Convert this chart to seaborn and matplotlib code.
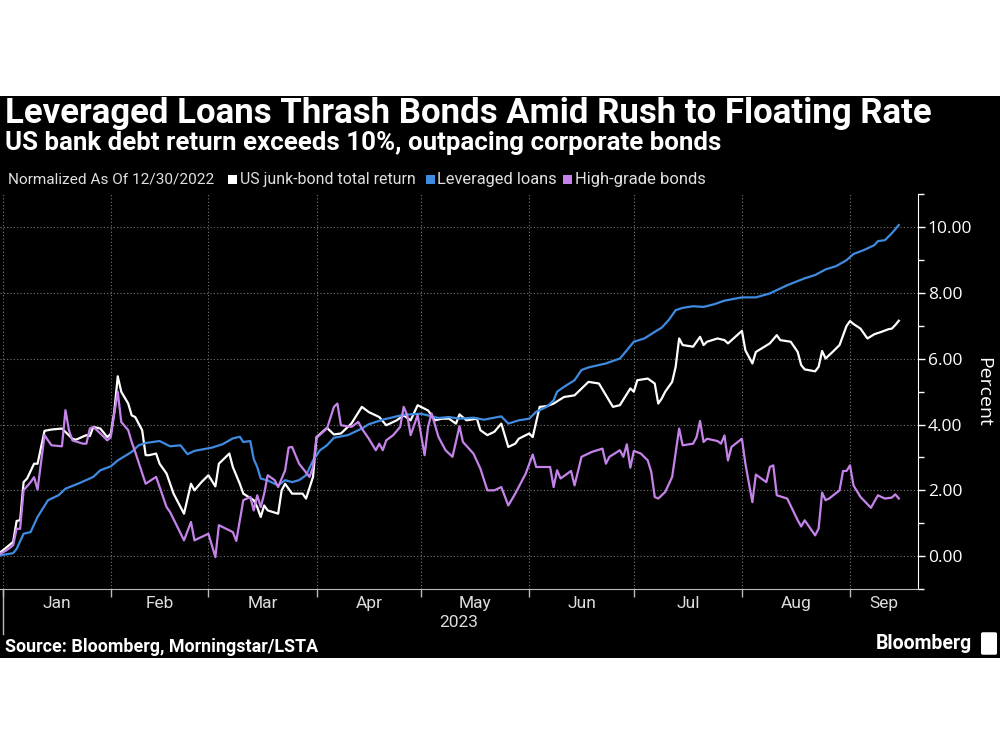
import pandas as pd
import matplotlib
matplotlib.use("Agg")
import matplotlib.pyplot as plt
import matplotlib.dates as mdates
from matplotlib.patches import Rectangle, FancyBboxPatch
from matplotlib.transforms import blended_transform_factory
from matplotlib.ticker import FixedLocator, FixedFormatter
import seaborn as sns

# days counted from 2023-01-01, values in percent (normalized as of 12/30/2022)
junk_days = [-2, 3, 4, 5, 6, 7, 9, 10, 12, 14, 17, 20, 21, 24, 25, 26, 28, 30, 31, 32,
             33, 34, 36, 37, 38, 39, 40, 41, 42, 44, 45, 47, 49, 52, 54, 55, 57, 59, 61, 62,
             65, 66, 68, 69, 72, 73, 74, 75, 76, 79, 80, 81, 83, 86, 87, 89, 90, 93, 95, 97,
             100, 103, 105, 108, 110, 113, 115, 117, 119, 122, 124, 126, 128, 130, 131, 133, 136, 137, 139, 141,
             143, 145, 147, 148, 151, 152, 154, 156, 158, 161, 164, 167, 168, 171, 175, 177, 180, 181, 182, 185,
             187, 188, 189, 190, 192, 193, 194, 195, 198, 200, 201, 202, 205, 207, 208, 212, 213, 215, 216, 220,
             222, 223, 226, 228, 229, 230, 233, 234, 235, 236, 238, 240, 242, 243, 244, 246, 248, 250, 252, 254,
             255, 256, 257]
junk_vals = [0.00, 0.43, 1.07, 1.09, 2.25, 2.36, 2.81, 2.81, 3.81, 3.85, 3.88, 3.57, 3.54, 3.68, 3.65, 3.93, 3.88, 3.62, 3.72, 4.39,
             5.47, 5.00, 4.64, 4.28, 4.23, 4.03, 3.83, 3.07, 3.07, 3.12, 2.81, 2.51, 1.90, 1.29, 2.20, 2.00, 2.25, 2.46, 2.12, 2.81,
             3.12, 2.71, 2.20, 1.90, 1.70, 1.49, 1.19, 1.54, 1.39, 1.29, 2.00, 2.20, 1.90, 1.90, 1.75, 2.41, 3.62, 3.90, 3.70, 3.73,
             4.03, 4.54, 4.38, 4.23, 3.98, 4.13, 4.28, 4.13, 4.59, 4.43, 4.13, 4.18, 4.18, 4.03, 4.31, 4.13, 4.18, 3.83, 3.68, 3.78,
             4.03, 3.32, 3.42, 3.57, 3.73, 3.62, 4.54, 4.56, 4.64, 4.84, 4.89, 5.20, 5.30, 5.25, 4.54, 4.59, 5.10, 5.00, 5.35, 5.40,
             5.25, 4.64, 4.79, 5.00, 5.30, 5.76, 6.62, 6.42, 6.37, 6.67, 6.42, 6.52, 6.62, 6.57, 6.47, 6.85, 6.26, 5.86, 6.21, 6.47,
             6.72, 6.57, 6.52, 6.21, 5.81, 5.68, 5.62, 5.76, 6.24, 6.01, 6.21, 6.42, 7.00, 7.15, 7.06, 6.92, 6.62, 6.75, 6.82, 6.90,
             6.92, 7.03, 7.16]

loan_days = [-2, 3, 4, 6, 8, 10, 13, 16, 18, 22, 26, 28, 31, 33, 35, 37, 39, 41, 45, 48,
             51, 53, 55, 60, 63, 66, 68, 69, 71, 72, 73, 74, 76, 79, 81, 83, 85, 87, 89, 91,
             93, 95, 99, 103, 105, 109, 115, 120, 125, 128, 131, 135, 138, 143, 145, 148, 151, 153, 156, 158,
             159, 161, 164, 166, 168, 173, 177, 179, 181, 184, 187, 189, 191, 193, 195, 198, 201, 204, 207, 210,
             212, 216, 220, 222, 225, 230, 233, 236, 239, 242, 244, 247, 250, 251, 253, 255, 257]
loan_vals = [0.00, 0.09, 0.22, 0.68, 0.73, 1.19, 1.70, 1.85, 2.05, 2.22, 2.41, 2.61, 2.73, 2.91, 3.04, 3.17, 3.37, 3.44, 3.50, 3.34,
             3.37, 3.10, 3.20, 3.30, 3.40, 3.58, 3.63, 3.47, 3.50, 2.95, 2.71, 2.36, 2.30, 2.15, 2.31, 2.25, 2.31, 2.46, 2.91, 3.22,
             3.37, 3.60, 3.68, 3.88, 4.01, 4.15, 4.30, 4.33, 4.20, 4.23, 4.18, 4.21, 4.15, 4.25, 4.03, 4.13, 4.18, 4.39, 4.54, 4.74,
             5.00, 5.15, 5.35, 5.66, 5.74, 5.86, 6.01, 6.26, 6.52, 6.62, 6.82, 6.95, 7.18, 7.48, 7.55, 7.60, 7.58, 7.66, 7.77, 7.83,
             7.87, 7.87, 7.99, 8.09, 8.24, 8.45, 8.55, 8.72, 8.82, 9.00, 9.19, 9.31, 9.46, 9.58, 9.61, 9.82, 10.07]

hg_days = [-2, 1, 3, 4, 5, 6, 8, 9, 10, 12, 13, 14, 17, 18, 19, 20, 23, 24, 25, 26,
           28, 30, 31, 32, 33, 34, 36, 37, 38, 41, 44, 45, 47, 48, 52, 54, 55, 59, 61, 62,
           65, 66, 67, 69, 70, 71, 72, 73, 74, 75, 76, 78, 79, 81, 82, 83, 85, 88, 89, 90,
           93, 95, 96, 97, 100, 102, 103, 105, 107, 108, 109, 110, 112, 114, 115, 116, 117, 119, 121, 122,
           123, 125, 127, 129, 131, 132, 135, 137, 139, 141, 143, 145, 147, 150, 152, 153, 157, 158, 159, 160,
           163, 164, 166, 169, 172, 173, 174, 177, 178, 179, 180, 181, 183, 185, 186, 187, 188, 190, 192, 194,
           195, 198, 199, 200, 201, 202, 205, 206, 207, 208, 209, 212, 213, 215, 216, 219, 220, 221, 222, 225,
           228, 229, 230, 233, 234, 235, 236, 237, 240, 241, 242, 243, 244, 246, 249, 251, 253, 255, 256, 257]
hg_vals = [0.00, 0.17, 0.33, 0.83, 0.83, 2.00, 2.25, 2.40, 2.02, 3.68, 3.52, 3.37, 3.34, 4.44, 3.83, 3.52, 3.42, 3.42, 3.88, 3.93,
           3.73, 3.52, 3.62, 4.34, 5.00, 4.08, 3.83, 3.47, 3.17, 2.20, 2.41, 2.10, 1.49, 1.34, 0.48, 1.04, 0.48, 0.68, -0.03, 0.94,
           0.78, 0.73, 0.46, 1.70, 1.75, 1.80, 1.39, 1.85, 1.49, 1.90, 2.46, 2.31, 2.10, 2.61, 3.30, 3.32, 2.81, 2.41, 2.71, 3.60,
           3.88, 4.54, 4.64, 3.98, 3.93, 4.08, 3.88, 3.57, 3.22, 3.42, 3.22, 3.52, 3.68, 3.93, 4.54, 4.29, 3.68, 4.29, 3.07, 3.93,
           4.34, 3.62, 3.22, 3.02, 3.95, 3.47, 3.12, 2.66, 2.00, 2.00, 2.10, 1.54, 1.90, 2.51, 3.09, 2.71, 2.71, 2.10, 2.61, 2.36,
           2.59, 2.15, 3.02, 3.17, 3.27, 2.81, 3.02, 3.22, 3.02, 3.40, 2.69, 3.20, 3.12, 2.91, 2.56, 1.80, 1.75, 1.95, 2.41, 3.88,
           3.37, 3.42, 3.62, 4.11, 3.47, 3.57, 3.50, 3.42, 3.67, 2.91, 3.32, 3.57, 2.81, 1.64, 2.48, 2.25, 2.71, 2.76, 1.85, 1.75,
           1.09, 0.90, 1.09, 0.63, 0.84, 1.93, 1.70, 1.75, 2.00, 2.59, 2.59, 2.76, 2.15, 1.80, 1.47, 1.85, 1.75, 1.78, 1.88, 1.75]

series_names = ["US junk-bond total return", "Leveraged loans", "High-grade bonds"]
series_colors = ["#ffffff", "#3f8be0", "#c583ea"]
month_labels = ["Jan", "Feb", "Mar", "Apr", "May", "Jun", "Jul", "Aug", "Sep"]
y_ticks = [0, 2, 4, 6, 8, 10]

BASE = pd.Timestamp("2023-01-01")


def to_frame(name, days, vals):
    return pd.DataFrame({"date": BASE + pd.to_timedelta(days, unit="D"),
                         "value": vals, "series": name})


df = pd.concat([to_frame(series_names[0], junk_days, junk_vals),
                to_frame(series_names[1], loan_days, loan_vals),
                to_frame(series_names[2], hg_days, hg_vals)], ignore_index=True)

NARROW = ["Roboto", "DejaVu Sans"]
PLAIN = ["Open Sans", "DejaVu Sans"]

fig = plt.figure(figsize=(10, 7.5), dpi=100, facecolor="white")
renderer = fig.canvas.get_renderer()


def fit_width(txt, target_px):
    # shrink/grow a text so it spans the same width as in the reference
    w = txt.get_window_extent(renderer).width
    txt.set_fontsize(txt.get_fontsize() * target_px / w)
    return txt


# black panel behind everything
fig.patches.append(Rectangle((0, 0.1227), 1, 0.7493, transform=fig.transFigure,
                             facecolor="black", edgecolor="none", zorder=-10))

ax = fig.add_axes([0.0, 0.2147, 0.918, 0.526])
ax.set_facecolor("black")

sns.lineplot(data=df, x="date", y="value", hue="series", hue_order=series_names,
             palette=dict(zip(series_names, series_colors)), estimator=None, sort=False,
             linewidth=1.6, legend=False, ax=ax)

x0 = mdates.date2num(BASE - pd.Timedelta(days=0.77))
x1 = mdates.date2num(BASE + pd.Timedelta(days=262.5))
ax.set_xlim(x0, x1)
ax.set_ylim(-1, 11)

# spines
for s in ["left", "top"]:
    ax.spines[s].set_visible(False)
ax.spines["right"].set_color("white")
ax.spines["bottom"].set_color("#bbbbbb")

# x axis: month starts as ticks, month names centered in the visible part
month_starts = [BASE + pd.DateOffset(months=i) for i in range(9)]
starts_num = [mdates.date2num(m) for m in month_starts]
ends_num = starts_num[1:] + [x1]
mids = [(max(a, x0) + min(b, x1)) / 2 for a, b in zip(starts_num, ends_num)]
ax.xaxis.set_major_locator(FixedLocator(starts_num))
ax.xaxis.set_major_formatter(FixedFormatter([""] * len(starts_num)))
ax.xaxis.set_minor_locator(FixedLocator(mids))
ax.xaxis.set_minor_formatter(FixedFormatter(month_labels))
ax.tick_params(axis="x", which="major", direction="out", length=6, width=1, color="#bbbbbb")
ax.tick_params(axis="x", which="minor", length=0, pad=5, labelsize=12.5, labelcolor="#dddddd")
for lab in ax.get_xticklabels(minor=True):
    lab.set_family(NARROW)

# year marker
trans = blended_transform_factory(ax.transData, ax.transAxes)
ax.plot([starts_num[0], starts_num[0]], [0, -0.115], transform=trans, color="#bbbbbb",
        linewidth=1, clip_on=False)
ax.text(0.5, -0.084, "2023", transform=ax.transAxes, ha="center", va="center",
        fontsize=12.5, color="#dddddd", family=NARROW)

# y axis on the right
ax.yaxis.tick_right()
ax.yaxis.set_label_position("right")
ax.set_yticks(y_ticks)
ax.set_yticklabels([f"{v:.2f}" for v in y_ticks])
ax.set_yticks(list(range(-1, 12, 2)), minor=True)
ax.tick_params(axis="y", which="major", length=5, width=1, color="white", pad=2,
               labelsize=12.5, labelcolor="white")
ax.tick_params(axis="y", which="minor", length=4, width=1, color="white")
for lab in ax.get_yticklabels():
    lab.set_family(PLAIN)
ax.set_ylabel("Percent", rotation=270, labelpad=14, fontsize=14, color="white", family=PLAIN)
ax.set_xlabel("")

ax.grid(True, which="major", color="#777777", linestyle=(0, (1, 2)), linewidth=0.8)

# titles
fit_width(fig.text(0.005, 0.849, "Leveraged Loans Thrash Bonds Amid Rush to Floating Rate",
                   fontsize=24, fontweight="bold", color="white", va="center", family=NARROW), 927)
fit_width(fig.text(0.005, 0.809, "US bank debt return exceeds 10%, outpacing corporate bonds",
                   fontsize=17, fontweight="bold", color="white", va="center", family=NARROW), 717)

# legend row
LEG_Y = 0.761
fit_width(fig.text(0.008, LEG_Y, "Normalized As Of 12/30/2022", fontsize=12.5, color="#e0e0e0",
                   va="center", family=NARROW), 205)
sq_x = [0.228, 0.426, 0.563]
lab_x = [0.240, 0.437, 0.575]
lab_w = [175, 119, 131]
for name, col, sx, lx, w in zip(series_names, series_colors, sq_x, lab_x, lab_w):
    fig.patches.append(Rectangle((sx, LEG_Y - 0.0065), 0.009, 0.012, transform=fig.transFigure,
                                 facecolor=col, edgecolor="none"))
    fit_width(fig.text(lx, LEG_Y, name, fontsize=12.5, color="#e0e0e0", va="center",
                       family=NARROW), w)

# footer
fit_width(fig.text(0.005, 0.137, "Source: Bloomberg, Morningstar/LSTA", fontsize=13,
                   fontweight="bold", color="white", va="center", family=NARROW), 313)
fit_width(fig.text(0.972, 0.142, "Bloomberg", fontsize=15, fontweight="bold", color="white",
                   va="center", ha="right", family=NARROW), 97)
fig.patches.append(FancyBboxPatch((0.983, 0.129), 0.012, 0.026, boxstyle="round,pad=0.002",
                                  transform=fig.transFigure, facecolor="white", edgecolor="none"))

fig.savefig("out.png", dpi=100, facecolor=fig.get_facecolor())
